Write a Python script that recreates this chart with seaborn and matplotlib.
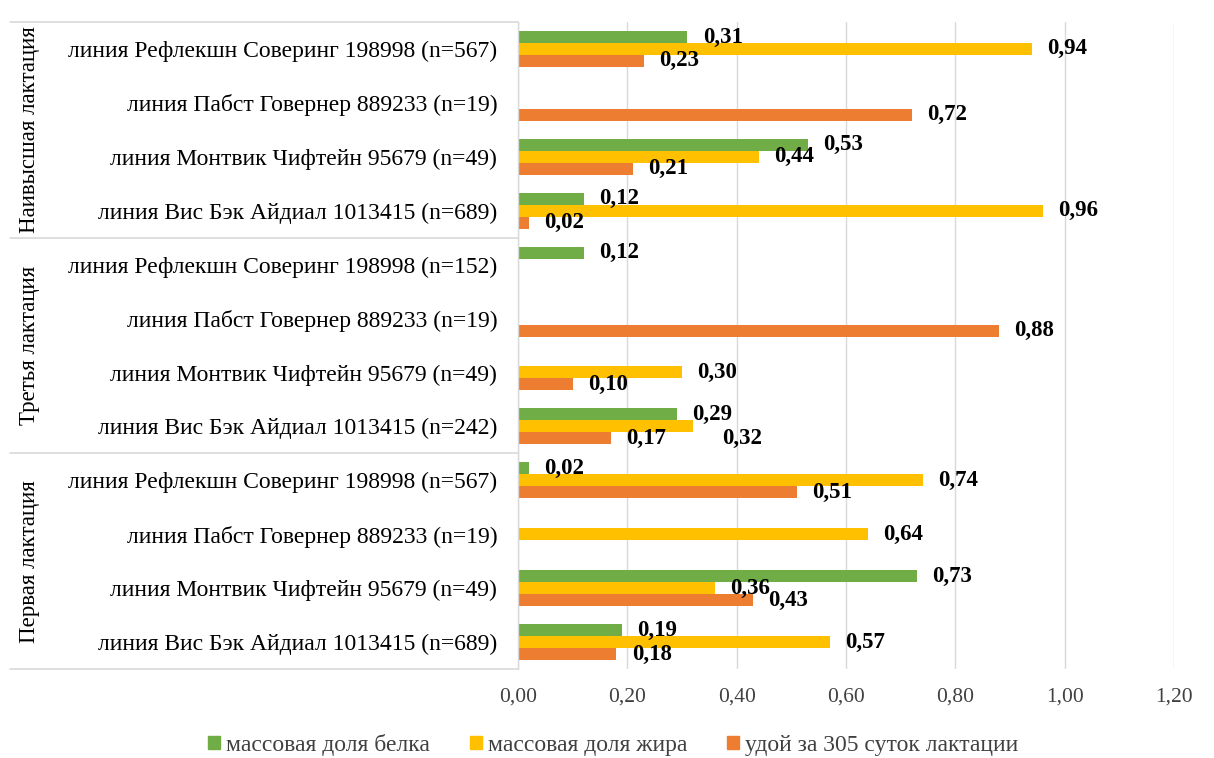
import numpy as np
import pandas as pd
import seaborn as sns
import matplotlib
matplotlib.use("Agg")
import matplotlib.pyplot as plt
from matplotlib.ticker import FuncFormatter
from matplotlib.transforms import blended_transform_factory

# ---------------- data ----------------
groups = ["Наивысшая лактация", "Третья лактация", "Первая лактация"]
line_labels = [
    "линия Рефлекшн Соверинг 198998 (n=567)",
    "линия Пабст Говернер 889233 (n=19)",
    "линия Монтвик Чифтейн 95679 (n=49)",
    "линия Вис Бэк Айдиал 1013415 (n=689)",
    "линия Рефлекшн Соверинг 198998 (n=152)",
    "линия Пабст Говернер 889233 (n=19)",
    "линия Монтвик Чифтейн 95679 (n=49)",
    "линия Вис Бэк Айдиал 1013415 (n=242)",
    "линия Рефлекшн Соверинг 198998 (n=567)",
    "линия Пабст Говернер 889233 (n=19)",
    "линия Монтвик Чифтейн 95679 (n=49)",
    "линия Вис Бэк Айдиал 1013415 (n=689)",
]
series_names = ["массовая доля белка", "массовая доля жира", "удой за 305 суток лактации"]
nan = np.nan
protein = [0.31, nan, 0.53, 0.12, 0.12, nan, nan, 0.29, 0.02, nan, 0.73, 0.19]
fat     = [0.94, nan, 0.44, 0.96, nan, nan, 0.30, 0.32, 0.74, 0.64, 0.36, 0.57]
milk    = [0.23, 0.72, 0.21, 0.02, nan, 0.88, 0.10, 0.17, 0.51, nan, 0.43, 0.18]
xticks = [0.0, 0.2, 0.4, 0.6, 0.8, 1.0, 1.2]
colors = ["#70AD47", "#FFC000", "#ED7D31"]

# ---------------- long table ----------------
keys = [f"{i:02d}|{lab}" for i, lab in enumerate(line_labels)]
rows = []
for s_name, vals in zip(series_names, [protein, fat, milk]):
    for k, v in zip(keys, vals):
        if not np.isnan(v):
            rows.append({"key": k, "series": s_name, "value": v})
df = pd.DataFrame(rows)

# ---------------- plot ----------------
sns.set_theme(style="white")
plt.rcParams["font.family"] = ["Liberation Serif", "DejaVu Serif"]

fig = plt.figure(figsize=(12.14, 7.58), dpi=100)
ax = fig.add_axes([518 / 1214, 1 - 669 / 758, (1174 - 518) / 1214, (669 - 22) / 758])

sns.barplot(data=df, y="key", x="value", hue="series", order=keys,
            hue_order=series_names, palette=colors, orient="h",
            width=0.667, dodge=True, errorbar=None, saturation=1.0, ax=ax,
            edgecolor="none", linewidth=0)

fmt = lambda v: f"{v:.2f}".replace(".", ",")
for ci, cont in enumerate(ax.containers):
    texts = ax.bar_label(cont, labels=[fmt(b.get_width()) for b in cont], padding=11,
                         fontsize=16.5, fontweight="bold", color="black")
    # fat label that collides with the protein label in the 4th row of the 2nd group:
    # nudge it down like the original (Excel) layout
    if ci == 1:
        for b, t in zip(cont, texts):
            yc = b.get_y() + b.get_height() / 2
            if abs(yc - 7) < 0.2 and abs(b.get_width() - 0.32) < 1e-6:
                t.set_y(cont[0].get_y() if False else t.get_position()[1])
                t.xyann = (t.xyann[0] + 10, t.xyann[1] - 9)

ax.set_xlim(0, 1.2)
ax.set_ylim(11.5, -0.5)
ax.set_xticks(xticks)
ax.xaxis.set_major_formatter(FuncFormatter(lambda v, p: f"{v:.2f}".replace(".", ",")))
ax.set_yticks(range(len(keys)))
ax.set_yticklabels(line_labels)
ax.tick_params(axis="y", length=0, pad=15, labelsize=17, labelcolor="black")
ax.tick_params(axis="x", length=0, pad=13, labelsize=15.5, labelcolor="#404040")
ax.set_xlabel("")
ax.set_ylabel("")
ax.grid(axis="x", color="#D9D9D9", linewidth=1)
ax.set_axisbelow(True)
for side in ["top", "right", "bottom"]:
    ax.spines[side].set_visible(False)
ax.spines["left"].set_color("#D9D9D9")
ax.spines["left"].set_linewidth(1)

# group separators and labels
trans = blended_transform_factory(fig.transFigure, ax.transData)
for yb in [-0.5, 3.5, 7.5, 11.5]:
    ax.plot([10 / 1214, 518 / 1214], [yb, yb], transform=trans, color="#D9D9D9",
            linewidth=1.2, clip_on=False)
for gi, g in enumerate(groups):
    ax.text(30 / 1214, gi * 4 + 1.5, g, transform=trans, rotation=90,
            ha="center", va="center", fontsize=16.5, color="black")

# legend
ax.get_legend().remove()
handles = [plt.Rectangle((0, 0), 1, 1, color=c) for c in colors]
fig.legend(handles, series_names, loc="center", bbox_to_anchor=(0.505, 0.017),
           ncol=3, frameon=False, fontsize=17, handlelength=0.5, handleheight=0.5,
           handletextpad=0.25, columnspacing=1.7, labelcolor="#404040")

fig.savefig("out.png", dpi=100)
